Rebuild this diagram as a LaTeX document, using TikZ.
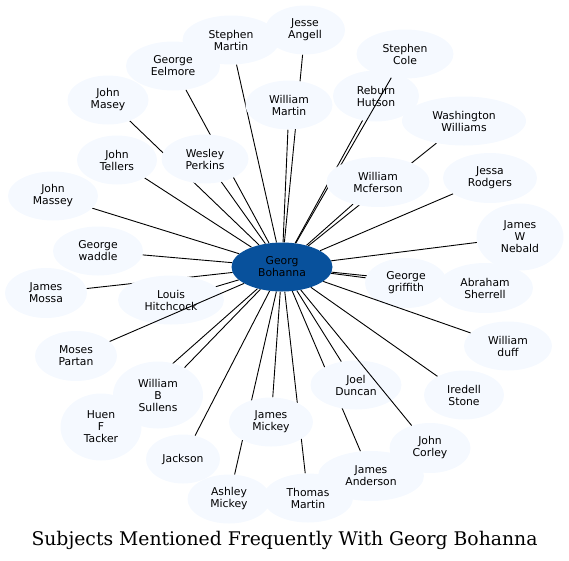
\documentclass[tikz,border=0pt]{standalone}
\usepackage{fontspec}
\setsansfont{DejaVu Sans}
\newfontfamily\titlefont{DejaVu Serif}
\usetikzlibrary{shapes.geometric,backgrounds}
\definecolor{hubblue}{RGB}{8,81,156}
\definecolor{leafblue}{RGB}{245,249,255}

\begin{document}
\begin{tikzpicture}[x=1pt,y=-1pt,
  person/.style={ellipse,fill=leafblue,inner sep=0pt,minimum height=49pt,align=center,
    font=\sffamily\fontsize{10.8}{12}\selectfont},
  hub/.style={person,fill=hubblue,minimum width=101pt},
  link/.style={line width=0.9pt}]
\def\titley{545}
\def\tall{67pt}
\useasboundingbox (0,0) rectangle (569,560);

\node[hub] (georg) at (282,267) {Georg\\Bohanna};

\node[person,minimum width=97pt] (smartin) at (231,40) {Stephen\\Martin};
\node[person,minimum width=94pt] (eelmore) at (173,66) {George\\Eelmore};
\node[person,minimum width=81pt] (masey) at (108,100) {John\\Masey};
\node[person,minimum width=80pt] (tellers) at (117,160) {John\\Tellers};
\node[person,minimum width=87pt] (perkins) at (205,159) {Wesley\\Perkins};
\node[person,minimum width=90pt] (massey) at (53,196) {John\\Massey};
\node[person,minimum width=90pt] (waddle) at (98,251) {George\\waddle};
\node[person,minimum width=80pt] (angell) at (305,30) {Jesse\\Angell};
\node[person,minimum width=87pt] (wmartin) at (289,105) {William\\Martin};
\node[person,minimum width=97pt] (cole) at (405,54) {Stephen\\Cole};
\node[person,minimum width=86pt,minimum height=51pt] (hutson) at (376,96) {Reburn\\Hutson};
\draw[link] (georg) -- (cole);
\node[person,minimum width=124pt] (williams) at (464,121) {Washington\\Williams};
\node[person,minimum width=103pt,minimum height=50pt] (mcferson) at (378,182) {William\\Mcferson};
\node[person,minimum width=94pt,minimum height=50pt] (rodgers) at (490,178) {Jessa\\Rodgers};
\node[person,minimum width=87pt,minimum height=\tall] (nebald) at (520,237) {James\\W\\Nebald};
\node[person,minimum width=96pt,minimum height=50pt] (sherrell) at (485,288) {Abraham\\Sherrell};
\node[person,minimum width=82pt,minimum height=50pt] (griffith) at (406,283) {George\\griffith};
\node[person,minimum width=88pt] (duff) at (508,346) {William\\duff};
\draw[link] (georg) -- (duff);
\node[person,minimum width=80pt] (stone) at (464,395) {Iredell\\Stone};
\node[person,minimum width=91pt] (duncan) at (356,385) {Joel\\Duncan};
\node[person,minimum width=81pt,minimum height=50pt] (corley) at (430,448) {John\\Corley};
\draw[link] (georg) -- (corley);
\node[person,minimum width=90pt] (tmartin) at (308,498) {Thomas\\Martin};
\node[person,minimum width=106pt,minimum height=50pt] (anderson) at (371,476) {James\\Anderson};
\node[person,minimum width=84pt] (jmickey) at (271,422) {James\\Mickey};
\node[person,minimum width=83pt] (amickey) at (229,499) {Ashley\\Mickey};
\node[person,minimum width=74pt] (jackson) at (183,459) {Jackson};
\node[person,minimum width=81pt,minimum height=\tall] (tacker) at (101,427) {Huen\\F\\Tacker};
\node[person,minimum width=90pt,minimum height=\tall] (sullens) at (158,395) {William\\B\\Sullens};
\node[person,minimum width=82pt,minimum height=50pt] (partan) at (76,356) {Moses\\Partan};
\node[person,minimum width=82pt,minimum height=50pt] (mossa) at (46,293) {James\\Mossa};
\node[person,minimum width=106pt] (hitchcock) at (171,300) {Louis\\Hitchcock};
\draw[link] (georg) -- (partan);

\begin{scope}[on background layer]
\foreach \who in {smartin,eelmore,masey,tellers,perkins,massey,waddle,angell,wmartin,
  hutson,williams,mcferson,rodgers,nebald,sherrell,griffith,stone,duncan,
  tmartin,anderson,jmickey,amickey,jackson,tacker,sullens,mossa,hitchcock}
  \draw[link] (georg) -- (\who);
\end{scope}

\node[anchor=base,font=\titlefont\fontsize{18.8}{22}\selectfont] (title) at (284.5,\titley) {Subjects Mentioned Frequently With Georg Bohanna};

\end{tikzpicture}
\end{document}
